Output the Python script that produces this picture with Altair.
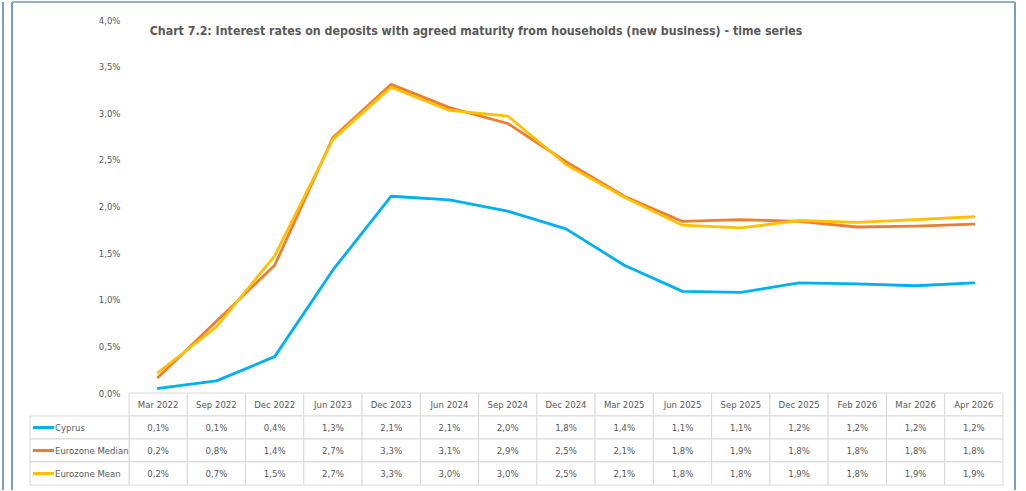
import altair as alt
import pandas as pd

# ---------------- data ----------------
categories = ["Mar 2022", "Sep 2022", "Dec 2022", "Jun 2023", "Dec 2023", "Jun 2024",
              "Sep 2024", "Dec 2024", "Mar 2025", "Jun 2025", "Sep 2025", "Dec 2025",
              "Feb 2026", "Mar 2026", "Apr 2026"]
series_names = ["Cyprus", "Eurozone Median", "Eurozone Mean"]

cyprus = [0.05, 0.13, 0.39, 1.32, 2.11, 2.07, 1.95, 1.76, 1.37, 1.09, 1.08, 1.18, 1.17, 1.15, 1.18]
median = [0.17, 0.77, 1.37, 2.74, 3.31, 3.06, 2.89, 2.48, 2.11, 1.84, 1.86, 1.84, 1.78, 1.79, 1.81]
mean = [0.22, 0.71, 1.47, 2.72, 3.28, 3.03, 2.97, 2.45, 2.10, 1.80, 1.77, 1.85, 1.83, 1.86, 1.89]

cyprus_labels = ["0,1%", "0,1%", "0,4%", "1,3%", "2,1%", "2,1%", "2,0%", "1,8%", "1,4%", "1,1%",
                 "1,1%", "1,2%", "1,2%", "1,2%", "1,2%"]
median_labels = ["0,2%", "0,8%", "1,4%", "2,7%", "3,3%", "3,1%", "2,9%", "2,5%", "2,1%", "1,8%",
                 "1,9%", "1,8%", "1,8%", "1,8%", "1,8%"]
mean_labels = ["0,2%", "0,7%", "1,5%", "2,7%", "3,3%", "3,0%", "3,0%", "2,5%", "2,1%", "1,8%",
               "1,8%", "1,9%", "1,8%", "1,9%", "1,9%"]

y_ticks = [0.0, 0.5, 1.0, 1.5, 2.0, 2.5, 3.0, 3.5, 4.0]
title_text = "Chart 7.2: Interest rates on deposits with agreed maturity from households (new business) - time series"

# ---------------- styles ----------------
FONT = "DejaVu Sans Condensed, Liberation Sans Narrow, sans-serif"
TEXT_COLOR = "#595959"
GRID = "#D9D9D9"
colors = ["#00B0F0", "#ED7D31", "#FFC000"]
W = 874
H_TOP = 373
H_TAB = 92

values_by_series = [cyprus, median, mean]
labels_by_series = [cyprus_labels, median_labels, mean_labels]

line_rows = []
for s, vals in zip(series_names, values_by_series):
    for c, v in zip(categories, vals):
        line_rows.append({"category": c, "series": s, "value": v})
line_df = pd.DataFrame(line_rows)

row_order = ["header"] + series_names
table_rows = []
for c in categories:
    table_rows.append({"category": c, "row": "header", "label": c})
for s, labs in zip(series_names, labels_by_series):
    for c, l in zip(categories, labs):
        table_rows.append({"category": c, "row": s, "label": l})
table_df = pd.DataFrame(table_rows)
legend_df = pd.DataFrame({"row": series_names})

color_scale = alt.Scale(domain=series_names, range=colors)

# ---------------- top: lines ----------------
x_top = alt.X("category:N", sort=categories,
              scale=alt.Scale(type="point", padding=0.5), axis=None)
y_top = alt.Y("value:Q",
              scale=alt.Scale(domain=[0, 4], nice=False, zero=True),
              axis=alt.Axis(values=y_ticks,
                            labelExpr="replace(format(datum.value, '.1f'), '.', ',') + '%'",
                            domain=False, ticks=False, grid=False, title=None,
                            labelFont=FONT, labelFontSize=9.5, labelColor=TEXT_COLOR,
                            labelPadding=9))

line_layers = []
for s in series_names:
    line_layers.append(
        alt.Chart(line_df).transform_filter(alt.datum.series == s)
        .mark_line(strokeWidth=2.8, strokeJoin="round", strokeCap="round")
        .encode(x=x_top, y=y_top,
                color=alt.Color("series:N", scale=color_scale, legend=None))
    )

title_layer = alt.Chart(pd.DataFrame({"t": [title_text]})).mark_text(
    font=FONT, fontSize=12.3, fontWeight="bold", color=TEXT_COLOR, align="center", baseline="middle"
).encode(text="t:N", x=alt.value(347), y=alt.value(11))

top = alt.layer(*line_layers, title_layer).properties(width=W, height=H_TOP)

# ---------------- bottom: data table ----------------
x_tab = alt.X("category:N", sort=categories,
              scale=alt.Scale(type="band", paddingInner=0, paddingOuter=0), axis=None)
y_tab = alt.Y("row:N", sort=row_order,
              scale=alt.Scale(type="band", paddingInner=0, paddingOuter=0), axis=None)

cells = alt.Chart(table_df).mark_rect(fill="white", stroke=GRID, strokeWidth=1).encode(x=x_tab, y=y_tab)
cell_text = alt.Chart(table_df).mark_text(font=FONT, fontSize=9.5, color=TEXT_COLOR).encode(
    x=x_tab, y=y_tab, text="label:N")

leg_cells = alt.Chart(legend_df).mark_rect(fill="white", stroke=GRID, strokeWidth=1).encode(
    x=alt.value(-99), x2=alt.value(0), y=y_tab)
leg_swatch = alt.Chart(legend_df).mark_rule(strokeWidth=3).encode(
    x=alt.value(-96), x2=alt.value(-75), y=y_tab,
    color=alt.Color("row:N", scale=color_scale, legend=None))
leg_text = alt.Chart(legend_df).mark_text(font=FONT, fontSize=9.5, color=TEXT_COLOR, align="left").encode(
    x=alt.value(-74), y=y_tab, text="row:N")

# chart-area frame (Excel style)
frame_df = pd.DataFrame({"k": [0]})
frame_left_outer = alt.Chart(frame_df).mark_rule(color="#4F7FA0", strokeWidth=1.5).encode(
    x=alt.value(-126), y=alt.value(-391), y2=alt.value(97))
frame_left = alt.Chart(frame_df).mark_rule(color="#4F7FA0", strokeWidth=1.5).encode(
    x=alt.value(-117), y=alt.value(-391), y2=alt.value(97))
frame_right = alt.Chart(frame_df).mark_rule(color="#4F7FA0", strokeWidth=1.5).encode(
    x=alt.value(886), y=alt.value(-391), y2=alt.value(97))
frame_top = alt.Chart(frame_df).mark_rule(color="#93B3C6", strokeWidth=2).encode(
    y=alt.value(-391), x=alt.value(-117), x2=alt.value(886))

table = alt.layer(cells, cell_text, leg_cells, leg_swatch, leg_text,
                  frame_left_outer, frame_left, frame_right, frame_top).properties(width=W, height=H_TAB)

chart = alt.vconcat(top, table, spacing=0, bounds="flush").properties(
    padding={"left": 2, "top": 1, "right": 0, "bottom": 0},
    background="white",
).configure_view(stroke=None)

chart.save("out.html", embed_options={"renderer": "svg", "actions": False})
